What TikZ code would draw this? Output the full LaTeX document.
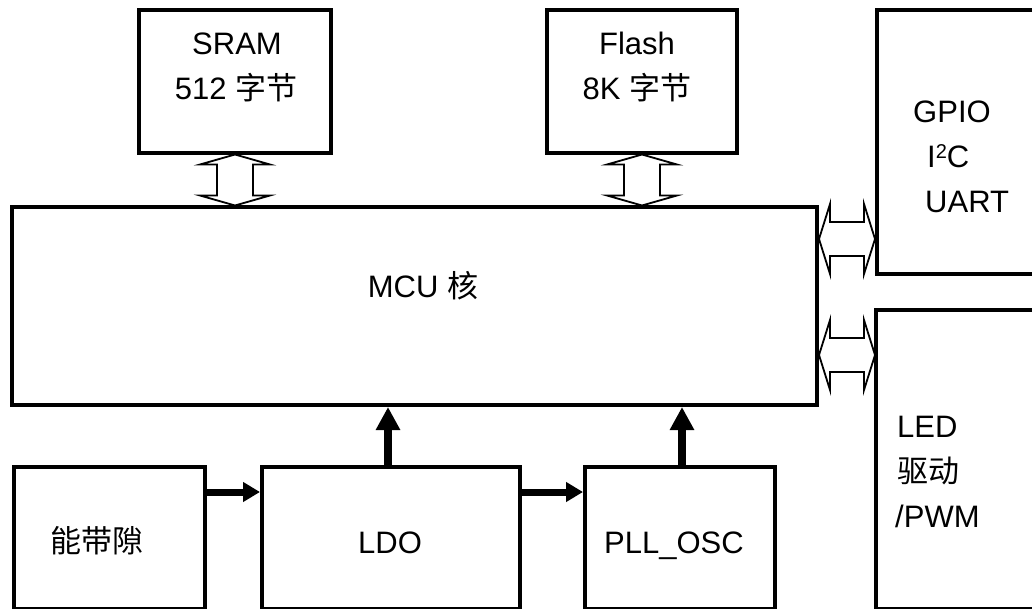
\documentclass[tikz,border=0pt]{standalone}
\usepackage{fontspec}
\setmainfont{Liberation Sans}
\newfontfamily\cjk{Noto Sans CJK SC}
\usetikzlibrary{arrows.meta,calc}
\tikzset{
  blk/.style={draw, line width=4pt, inner sep=0pt, anchor=north west},
  lbl/.style={inner sep=0pt, anchor=base, font=\fontsize{31}{36}\selectfont},
  lblw/.style={inner sep=0pt, anchor=base west, font=\fontsize{31}{36}\selectfont},
  hollow/.style={draw, line width=1.8pt, fill=white, line join=miter},
  thinarr/.style={line width=7pt, -{Triangle[length=17pt,width=19pt]}},
  thickarr/.style={line width=8pt, -{Triangle[length=23pt,width=23pt]}},
  vbus/.pic={\draw[hollow] (0,-25.5) -- (35,-15.5) -- (18,-15.5) -- (18,15.5) -- (35,15.5) -- (0,25.5) -- (-35,15.5) -- (-18,15.5) -- (-18,-15.5) -- (-35,-15.5) -- cycle;},
  hbus/.pic={\draw[hollow] (-28,0) -- (-17,-35) -- (-17,-17) -- (17,-17) -- (17,-35) -- (28,0) -- (17,35) -- (17,17) -- (-17,17) -- (-17,35) -- cycle;}
}
\begin{document}
\begin{tikzpicture}[x=1pt,y=-1pt]
\useasboundingbox (0,0) rectangle (1032,609);
\clip (0,0) rectangle (1032,609);
% boxes
\node[blk, minimum width=192pt, minimum height=143pt] (sram) at (137,8) {};
\node[blk, minimum width=190pt, minimum height=143pt] (flash) at (545,8) {};
\node[blk, minimum width=250pt, minimum height=264pt] (gpio) at (875,8) {};
\node[blk, minimum width=805pt, minimum height=198pt] (mcu) at (10,205) {};
\node[blk, minimum width=250pt, minimum height=299pt] (led) at (874,308) {};
\node[blk, minimum width=191pt, minimum height=142pt] (bg) at (12,465) {};
\node[blk, minimum width=258pt, minimum height=142pt] (ldo) at (260,465) {};
\node[blk, minimum width=190pt, minimum height=142pt] (pll) at (583,465) {};
% labels
\node[lbl] (t1) at (237,55) {SRAM};
\node[lbl] (t2) at (236,100) {512 {\cjk 字节}};
\node[lbl] (t3) at (637,55) {Flash};
\node[lbl] (t4) at (637,100) {8K {\cjk 字节}};
\node[lbl] (t5) at (423,298) {MCU {\cjk 核}};
\node[lblw] (t6) at (913,123) {GPIO};
\node[lblw] (t7) at (927,168) {I{\fontsize{20}{24}\selectfont\raisebox{0.45em}{2}}C};
\node[lblw] (t8) at (925,213) {UART};
\node[lblw] (t9) at (897,437) {LED};
\node[lblw] (t10) at (897,482) {\cjk 驱动};
\node[lblw] (t11) at (895,527) {/PWM};
\node[lbl] (t12) at (97,552) {\cjk 能带隙};
\node[lbl] (t13) at (390,553) {LDO};
\node[lbl] (t14) at (674,553) {PLL\_OSC};
% hollow bus arrows
\path ($(sram.south)!0.5!(sram.south |- mcu.north)$) pic {vbus};
\path ($(flash.south)!0.5!(flash.south |- mcu.north)$) pic {vbus};
\path ($(mcu.east |- 0,239)!0.5!(gpio.west |- 0,239)$) pic {hbus};
\path ($(mcu.east |- 0,355)!0.5!(gpio.west |- 0,355)$) pic {hbus};
% solid arrows
\draw[thinarr] (bg.east |- 0,492) -- (ldo.west |- 0,492);
\draw[thinarr] (ldo.east |- 0,492) -- (pll.west |- 0,492);
\draw[thickarr] (ldo.north -| 388,0) -- (mcu.south -| 388,0);
\draw[thickarr] (pll.north -| 682,0) -- (mcu.south -| 682,0);
\end{tikzpicture}
\end{document}
